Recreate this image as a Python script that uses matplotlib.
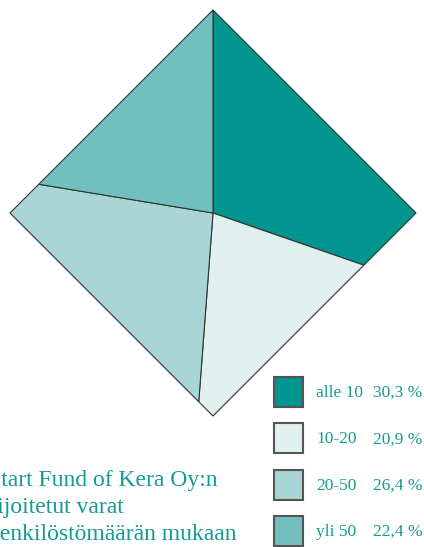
import numpy as np
import matplotlib.pyplot as plt
from matplotlib.patches import Polygon, Rectangle

# data
categories = ["alle 10", "10-20", "20-50", "yli 50"]
shares = [30.3, 20.9, 26.4, 22.4]
share_labels = ["30,3 %", "20,9 %", "26,4 %", "22,4 %"]
colors = ["#00958f", "#dff0ef", "#a8d5d5", "#72bfbf"]
title_lines = ["Start Fund of Kera Oy:n", "sijoitetut varat", "henkilöstömäärän mukaan"]

text_color = "#139a93"
edge_color = "#333333"


def diamond_point(angle_deg, cx, cy, r):
    # ray from centre hits the diamond |dx|+|dy| = r
    a = np.radians(angle_deg)
    dx, dy = np.cos(a), -np.sin(a)  # y axis points down (pixel coords)
    t = r / (abs(dx) + abs(dy))
    return cx + t * dx, cy + t * dy


def arc_points(a0, a1, cx, cy, r):
    # boundary points between angle a0 and a1 (clockwise, decreasing angle)
    pts = [diamond_point(a0, cx, cy, r)]
    for corner in [90, 0, -90, -180, -270, -360]:
        if a1 < corner < a0:
            pts.append(diamond_point(corner, cx, cy, r))
    pts.append(diamond_point(a1, cx, cy, r))
    return pts


fig = plt.figure(figsize=(4.24, 5.47), dpi=100)
ax = fig.add_axes([0, 0, 1, 1])
ax.set_xlim(0, 424)
ax.set_ylim(547, 0)
ax.axis("off")

cx, cy, r = 213, 213, 203
start = 90.0
for val, col in zip(shares, colors):
    end = start - val / sum(shares) * 360
    pts = [(cx, cy)] + arc_points(start, end, cx, cy, r)
    ax.add_patch(Polygon(pts, closed=True, facecolor=col, edgecolor=edge_color, lw=0.8))
    start = end

# legend
for i, (cat, lab, col) in enumerate(zip(categories, share_labels, colors)):
    y0 = 377 + i * 46.3
    ax.add_patch(Rectangle((274, y0), 29, 30, facecolor=col, edgecolor="#555555", lw=1.5))
    ax.text(316, y0 + 16, cat, color=text_color, fontsize=12.5,
            family="Liberation Serif", va="center", ha="left")
    ax.text(373, y0 + 16, lab, color=text_color, fontsize=12.5,
            family="Liberation Serif", va="center", ha="left")

# title, cut at left edge like the original
for i, line in enumerate(title_lines):
    ax.text(-12, 486 + i * 27, line, color=text_color, fontsize=17,
            family="Liberation Serif", va="baseline", ha="left")

fig.savefig("out.png", dpi=100)
